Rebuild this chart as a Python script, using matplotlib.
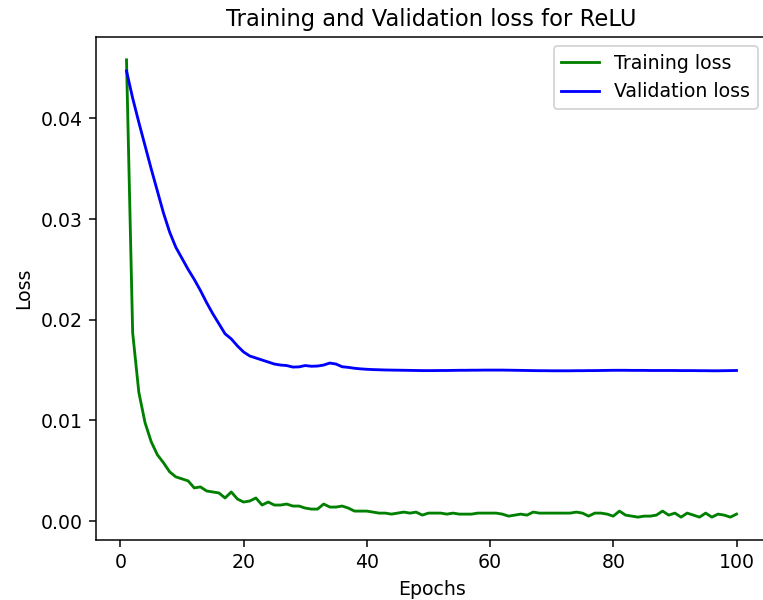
import numpy as np
import matplotlib
matplotlib.use('Agg')
import matplotlib.pyplot as plt

epochs = list(range(1, 101))

train_loss = [
    0.0458, 0.0187, 0.0128, 0.0098, 0.0079, 0.0066, 0.0058, 0.0049, 0.0044, 0.0042,
    0.0040, 0.0033, 0.0034, 0.0030, 0.0029, 0.0028, 0.0023, 0.0029, 0.0022, 0.0019,
    0.0020, 0.0023, 0.0016, 0.0019, 0.0016, 0.0016, 0.0017, 0.0015, 0.0015, 0.0013,
    0.0012, 0.0012, 0.0017, 0.0014, 0.0014, 0.0015, 0.0013, 0.0010, 0.0010, 0.0010,
    0.0009, 0.0008, 0.0008, 0.0007, 0.0008, 0.0009, 0.0008, 0.0009, 0.0006, 0.0008,
    0.0008, 0.0008, 0.0007, 0.0008, 0.0007, 0.0007, 0.0007, 0.0008, 0.0008, 0.0008,
    0.0008, 0.0007, 0.0005, 0.0006, 0.0007, 0.0006, 0.0009, 0.0008, 0.0008, 0.0008,
    0.0008, 0.0008, 0.0008, 0.0009, 0.0008, 0.0005, 0.0008, 0.0008, 0.0007, 0.0005,
    0.0010, 0.0006, 0.0005, 0.0004, 0.0005, 0.0005, 0.0006, 0.0010, 0.0006, 0.0008,
    0.0004, 0.0008, 0.0006, 0.0004, 0.0008, 0.0004, 0.0007, 0.0006, 0.0004, 0.0007,
]

val_loss = [
    0.04470, 0.04200, 0.03960, 0.03730, 0.03500, 0.03280, 0.03060, 0.02870, 0.02720, 0.02610,
    0.02500, 0.02400, 0.02290, 0.02170, 0.02060, 0.01960, 0.01860, 0.01810, 0.01740, 0.01680,
    0.01640, 0.01620, 0.01600, 0.01580, 0.01560, 0.01550, 0.01545, 0.01530, 0.01532, 0.01545,
    0.01538, 0.01540, 0.01550, 0.01570, 0.01560, 0.01533, 0.01527, 0.01518, 0.01512, 0.01508,
    0.01505, 0.01503, 0.01501, 0.01500, 0.01499, 0.01498, 0.01497, 0.01496, 0.01495, 0.01495,
    0.01495, 0.01496, 0.01496, 0.01497, 0.01498, 0.01498, 0.01499, 0.01499, 0.01500, 0.01500,
    0.01500, 0.01500, 0.01499, 0.01498, 0.01497, 0.01496, 0.01495, 0.01494, 0.01494, 0.01493,
    0.01493, 0.01493, 0.01493, 0.01494, 0.01494, 0.01495, 0.01495, 0.01496, 0.01497, 0.01498,
    0.01498, 0.01498, 0.01497, 0.01497, 0.01497, 0.01496, 0.01496, 0.01496, 0.01496, 0.01496,
    0.01495, 0.01495, 0.01495, 0.01494, 0.01494, 0.01493, 0.01493, 0.01494, 0.01495, 0.01496,
]

# the reference looks like a scaled-up render, so use a higher dpi
dpi = 136
fig = plt.figure(figsize=(763 / dpi, 600 / dpi), dpi=dpi)
# right edge of the axes sits just past the image edge, like the reference crop
ax = fig.add_axes([96 / 763, 60 / 600, 671 / 763, 503 / 600])
ax.spines['right'].set_visible(False)

ax.plot(epochs, train_loss, color='green', label='Training loss')
ax.plot(epochs, val_loss, color='blue', label='Validation loss')
ax.set_title('Training and Validation loss for ReLU')
ax.set_xlabel('Epochs')
ax.set_ylabel('Loss')
ax.legend(loc='upper right')

plt.savefig('out.png', dpi=dpi)
